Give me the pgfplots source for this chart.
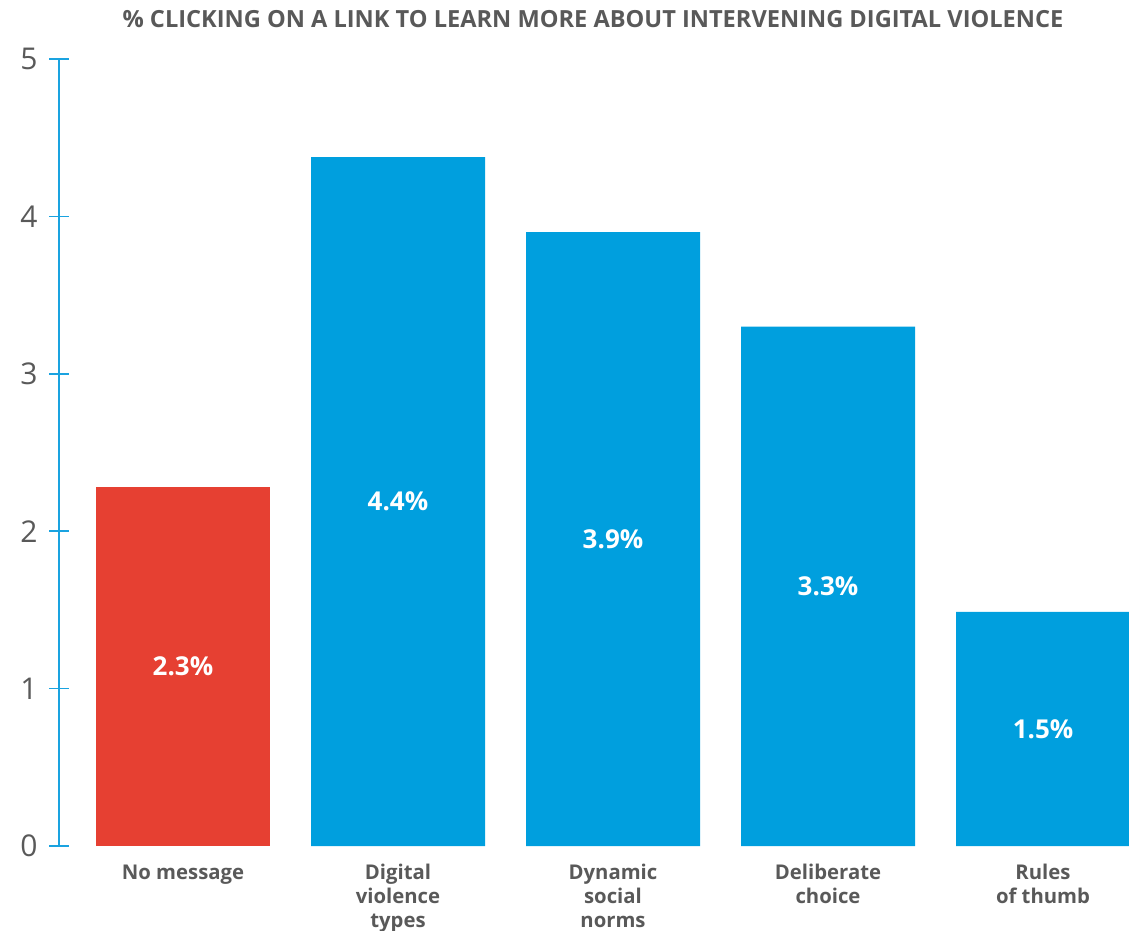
\documentclass[border=0pt]{standalone}
\usepackage{pgfplots}
\pgfplotsset{compat=1.18}
\usepackage{fontspec}
\setmainfont{Open Sans}
\definecolor{barblue}{HTML}{009FDE}
\definecolor{barred}{HTML}{E64032}
\definecolor{axblue}{HTML}{1AA3E0}
\definecolor{txtgray}{HTML}{595959}
\begin{document}
\begin{tikzpicture}
\path[use as bounding box] (-183pt,-85pt) rectangle (946pt,846pt);
\begin{axis}[
  anchor=origin,
  at={(0pt,0pt)},
  x=215pt, y=157.4pt,
  xmin=-0.5767, xmax=4.405,
  ymin=0, ymax=5,
  axis lines*=left,
  x axis line style={draw=none},
  y axis line style={draw=axblue, line width=1.6pt},
  ytick={0,1,2,3,4,5},
  xtick={0,1,2,3,4},
  xticklabels={No message,{Digital\\violence\\types},{Dynamic\\social\\norms},{Deliberate\\choice},{Rules\\of thumb}},
  xtick style={draw=none},
  ytick style={draw=axblue, line width=1.6pt},
  tick align=center,
  major tick length=20pt,
  yticklabel style={font=\fontsize{30}{36}\selectfont, text=txtgray, xshift=-8pt},
  /pgf/number format/assume math mode=true,
  xticklabel style={font=\bfseries\fontsize{20.3}{24}\selectfont, text=txtgray, align=center, anchor=north, yshift=5pt},
  ybar, bar width=174pt, bar shift=0pt,
  clip=false,
  visualization depends on=rawy \as \rawy,
  nodes near coords={\pgfmathprintnumber[fixed,precision=1]{\pgfplotspointmeta}\%},
  nodes near coords style={font=\bfseries\fontsize{26}{30}\selectfont, text=white, anchor=center, yshift={-0.5*\rawy*157.4pt}},
]
\addplot[fill=barred, draw=none] coordinates {(0,2.28)};
\addplot[fill=barblue, draw=none] coordinates {(1,4.377) (2,3.90) (3,3.30) (4,1.487)};
\end{axis}
\node[font=\bfseries\fontsize{23.6}{28}\selectfont, text=txtgray] at (410pt,827pt) {\% CLICKING ON A LINK TO LEARN MORE ABOUT INTERVENING DIGITAL VIOLENCE};
\end{tikzpicture}
\end{document}
